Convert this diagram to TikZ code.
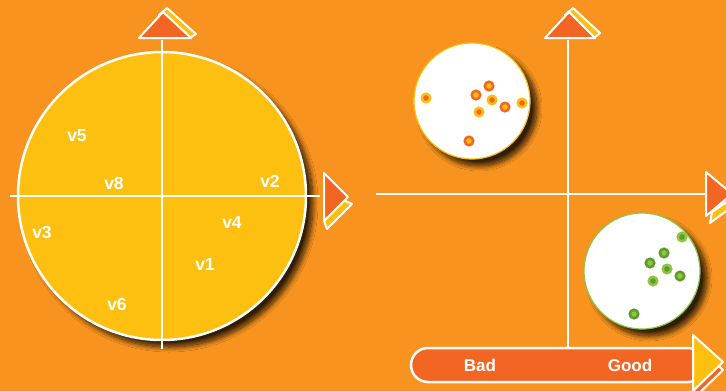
\documentclass[tikz,border=0pt]{standalone}
\usepackage{fontspec}
\setmainfont{Liberation Sans}
\usetikzlibrary{shadows.blur}
\definecolor{bg}{HTML}{F7931E}
\definecolor{yel}{HTML}{FDC010}
\definecolor{org}{HTML}{F26522}
\definecolor{lgr}{HTML}{8DC63F}
\definecolor{dgr}{HTML}{5E9B2E}
\tikzset{
  shad/.style={blur shadow={shadow xshift=7pt, shadow yshift=-7pt, shadow blur radius=5pt, shadow blur steps=12, shadow opacity=80}},
  bigc/.style={circle, minimum size=288pt, inner sep=0pt, fill=yel, draw=white, line width=2.5pt, shad},
  smallc/.style={circle, minimum size=116pt, inner sep=0pt, fill=white, draw=#1, line width=1.2pt, shad},
  axis/.style={draw=white, line width=2pt},
  tip/.style={draw=white, line width=2pt, line join=round},
  dotA/.style={circle, inner sep=0pt, minimum size=8.5pt, line width=2.5pt, draw=org, fill=yel},
  dotB/.style={circle, inner sep=0pt, minimum size=8.5pt, line width=2.5pt, draw=yel, fill=org},
  dotC/.style={circle, inner sep=0pt, minimum size=8.5pt, line width=2.5pt, draw=dgr, fill=lgr},
  dotD/.style={circle, inner sep=0pt, minimum size=8.5pt, line width=2.5pt, draw=lgr, fill=dgr},
  lab/.style={text=white, font=\fontsize{17.5}{17.5}\selectfont\bfseries, inner sep=0pt},
  barlab/.style={text=white, font=\fontsize{17}{17}\selectfont\bfseries, inner sep=0pt}
}
\begin{document}
\begin{tikzpicture}[x=1pt,y=-1pt]
\fill[bg] (0,0) rectangle (726,391);
\useasboundingbox (0,0) rectangle (726,391);

% ---------- left plot ----------
\node[bigc] (C) at (162,196) {};
\coordinate (L1) at (10,196);
\coordinate (R1) at (320,196);
\coordinate (T1) at (162,40);
\coordinate (B1) at (162,349);
\draw[axis] (L1) -- (R1);
\draw[axis] (T1) -- (B1);

% up arrow (left)
\filldraw[tip, fill=yel] (159,15) -- (167,8) -- (196,34) -- (190,38) -- cycle;
\filldraw[tip, fill=org] (139,38) -- (163,12) -- (191,38) -- cycle;
% right arrow (left)
\filldraw[tip, fill=yel] (343,200) -- (352,204) -- (327,229) -- (324,221) -- cycle;
\filldraw[tip, fill=org] (324,173) -- (348,197) -- (324,221) -- cycle;

\node[lab] (v5) at (77,136) {v5};
\node[lab] (v8) at (114,183) {v8};
\node[lab] (v2) at (270,181) {v2};
\node[lab] (v3) at (42,232) {v3};
\node[lab] (v4) at (232,222) {v4};
\node[lab] (v1) at (205,264) {v1};
\node[lab] (v6) at (117,304) {v6};

% ---------- right plot ----------
\coordinate (L2) at (376,194);
\coordinate (R2) at (708,194);
\coordinate (T2) at (568,40);
\coordinate (B2) at (568,349);
\draw[axis] (L2) -- (R2);
\draw[axis] (T2) -- (B2);

% up arrow (right)
\filldraw[tip, fill=yel] (565,15) -- (573,8) -- (600,33) -- (594,38) -- cycle;
\filldraw[tip, fill=org] (545,38) -- (569,12) -- (595,38) -- cycle;
% right arrow (right)
\filldraw[tip, fill=yel] (712,212) -- (734,197) -- (736,204) -- (710,223) -- cycle;
\filldraw[tip, fill=org] (706,172) -- (732,194) -- (706,216) -- cycle;

% bad cluster
\node[smallc=yel] (S1) at (472,101) {};
\node[dotB] (a1) at (426,98) {};
\node[dotA] (a2) at (476,95) {};
\node[dotA] (a3) at (489,86) {};
\node[dotB] (a4) at (492,100) {};
\node[dotA] (a5) at (505,107) {};
\node[dotB] (a6) at (522,103) {};
\node[dotB] (a7) at (479,112) {};
\node[dotA] (a8) at (469,141) {};

% good cluster
\node[smallc=lgr] (S2) at (642,271) {};
\node[dotD] (g1) at (682,237) {};
\node[dotC] (g2) at (664,253) {};
\node[dotC] (g3) at (650,263) {};
\node[dotD] (g4) at (667,269) {};
\node[dotC] (g5) at (680,276) {};
\node[dotD] (g6) at (653,281) {};
\node[dotC] (g7) at (634,314) {};

% bottom bar
\filldraw[draw=white, line width=2.5pt, fill=org, rounded corners=17pt] (411,348) rectangle (705,382);
\filldraw[tip, fill=org] (693,343) -- (723,370) -- (693,399) -- cycle;
\filldraw[tip, fill=yel] (693,335) -- (723,362) -- (693,391) -- cycle;
\node[barlab] (bad) at (480,365) {Bad};
\node[barlab] (good) at (630,365) {Good};
\end{tikzpicture}
\end{document}
